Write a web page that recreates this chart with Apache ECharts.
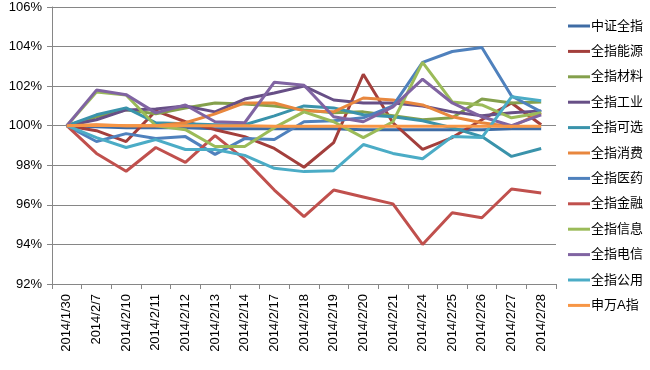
<!DOCTYPE html>
<html>
<head>
<meta charset="utf-8">
<script src="https://cdn.jsdelivr.net/npm/echarts@6/dist/echarts.min.js"></script>
<style>html,body{margin:0;padding:0;background:#fff;}#c{width:650px;height:370px;}</style>
</head>
<body>
<div id="c"></div>
<script>
const categories = ['2014/1/30','2014/2/7','2014/2/10','2014/2/11','2014/2/12','2014/2/13','2014/2/14','2014/2/17','2014/2/18','2014/2/19','2014/2/20','2014/2/21','2014/2/24','2014/2/25','2014/2/26','2014/2/27','2014/2/28'];
const seriesNames = ['中证全指','全指能源','全指材料','全指工业','全指可选','全指消费','全指医药','全指金融','全指信息','全指电信','全指公用','申万A指'];
const zzqz = [100, 99.95, 99.9, 99.9, 99.9, 99.85, 99.85, 99.85, 99.85, 99.85, 99.8, 99.8, 99.8, 99.8, 99.8, 99.85, 99.85];
const nengyuan = [100, 99.75, 99.2, 100.75, 100.2, 99.8, 99.45, 98.85, 97.9, 99.15, 102.6, 100.15, 98.8, 99.4, 100.3, 101.15, 100.05];
const cailiao = [100, 100.45, 100.8, 100.6, 100.9, 101.15, 101.1, 101.0, 100.8, 100.65, 100.7, 100.5, 100.3, 100.4, 101.35, 101.15, 101.2];
const gongye = [100, 100.3, 100.8, 100.85, 101.0, 100.7, 101.35, 101.65, 102.0, 101.3, 101.15, 101.15, 101.0, 100.7, 100.5, 100.65, 100.75];
const kexuan = [100, 100.55, 100.9, 100.15, 100.1, 100.05, 100.05, 100.5, 101.0, 100.9, 100.55, 100.45, 100.25, 99.9, 99.45, 98.45, 98.85];
const xiaofei = [100, 100.05, 100.0, 100.0, 100.15, 100.6, 101.15, 101.15, 100.75, 100.7, 101.4, 101.3, 101.05, 100.45, 100.15, 99.95, 100.65];
const yiyao = [100, 99.2, 99.6, 99.35, 99.45, 98.55, 99.35, 99.3, 100.2, 100.25, 100.4, 101.0, 103.2, 103.75, 103.95, 101.5, 100.7];
const jinrong = [100, 98.6, 97.7, 98.9, 98.15, 99.5, 98.3, 96.75, 95.4, 96.75, 96.4, 96.05, 94.0, 95.6, 95.35, 96.8, 96.6];
const xinxi = [100, 101.7, 101.55, 100.0, 99.8, 98.95, 98.95, 99.9, 100.7, 100.2, 99.4, 100.2, 103.2, 101.2, 101.05, 100.4, 100.65];
const dianxin = [100, 101.8, 101.57, 100.65, 101.05, 100.2, 100.15, 102.2, 102.05, 100.45, 100.2, 100.95, 102.35, 101.15, 100.45, 100.0, 100.55];
const gongyong = [100, 99.4, 98.9, 99.3, 98.8, 98.8, 98.5, 97.85, 97.68, 97.73, 99.05, 98.6, 98.33, 99.45, 99.4, 101.46, 101.26];
const swA = [100, 100.02, 100.0, 100.0, 100.0, 100.0, 100.0, 99.97, 99.97, 99.97, 99.97, 99.97, 99.97, 99.97, 99.97, 99.97, 99.97];
const yTicks = {min: 92, max: 106, interval: 2};
const colors = ['#3F6CA4','#A33F3C','#84A04C','#674F86','#3A93AB','#E8873E','#4F81BD','#C0504D','#9BBB59','#8064A2','#4BACC6','#F79646'];

const allData = [zzqz, nengyuan, cailiao, gongye, kexuan, xiaofei, yiyao, jinrong, xinxi, dianxin, gongyong, swA];
const chart = echarts.init(document.getElementById('c'), null, {renderer: 'canvas'});
const font = '"Liberation Sans", "Noto Sans CJK SC", sans-serif';
chart.setOption({
  animation: false,
  color: colors,
  grid: {left: 52, right: 94, top: 7, bottom: 86, containLabel: false},
  legend: {
    orient: 'vertical', left: 568, top: 19, padding: 0,
    icon: 'rect', itemWidth: 22, itemHeight: 3, itemGap: 11.4,
    textStyle: {fontFamily: font, fontSize: 13, color: '#000', lineHeight: 14, padding: [0,0,0,-4]},
    data: seriesNames
  },
  xAxis: {
    type: 'category', data: categories, boundaryGap: true,
    axisLine: {lineStyle: {color: '#868686', width: 1}},
    axisTick: {show: true, length: 5, lineStyle: {color: '#868686'}},
    axisLabel: {rotate: 90, interval: 0, fontFamily: font, fontSize: 13, color: '#000', margin: 10}
  },
  yAxis: {
    type: 'value', min: yTicks.min, max: yTicks.max, interval: yTicks.interval,
    axisLine: {show: true, lineStyle: {color: '#868686'}},
    axisTick: {show: true, length: 5, lineStyle: {color: '#868686'}},
    splitLine: {lineStyle: {color: '#868686', width: 1}},
    axisLabel: {formatter: '{value}%', fontFamily: font, fontSize: 13, color: '#000', margin: 10}
  },
  series: seriesNames.map((n, i) => ({
    name: n, type: 'line', data: allData[i], symbol: 'none',
    lineStyle: {width: 3}, z: i === 11 ? 20 : 2 + i
  }))
});
</script>
</body>
</html>
